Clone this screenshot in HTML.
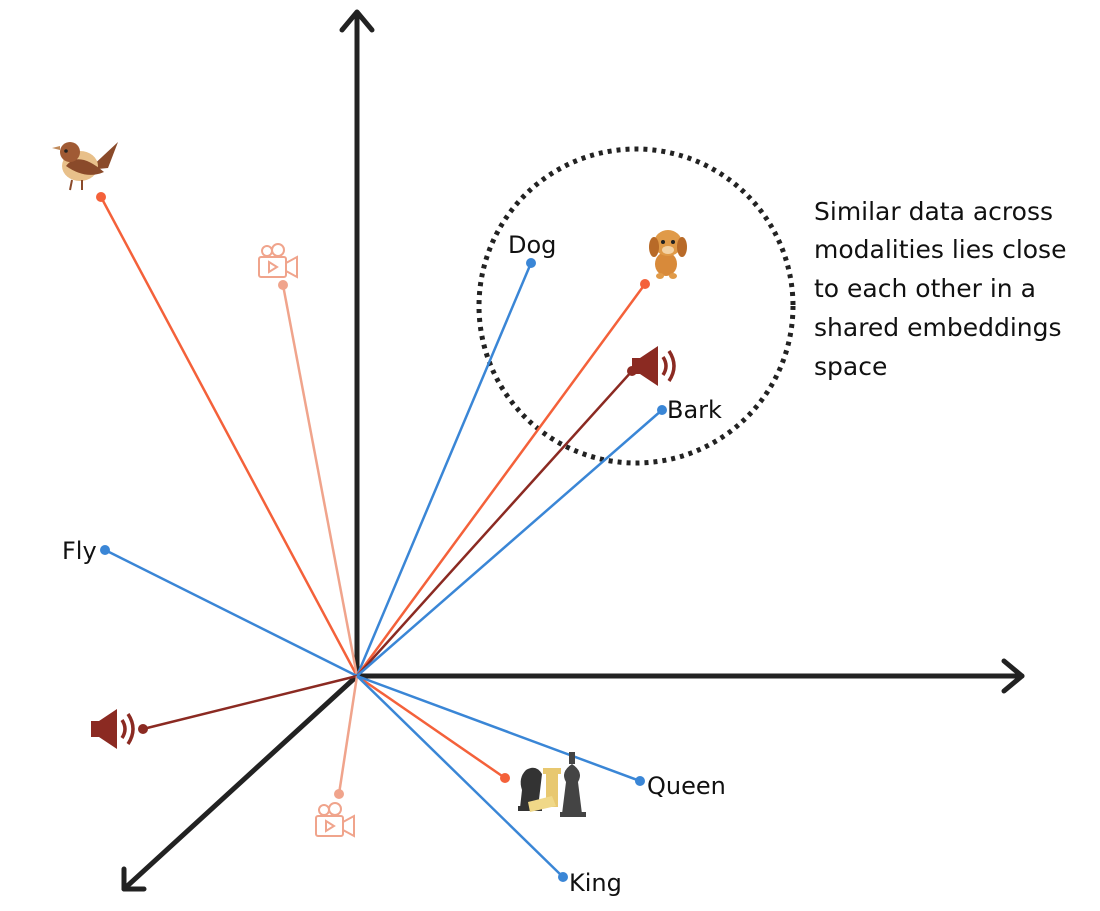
<!DOCTYPE html>
<html><head><meta charset="utf-8"><style>
html,body{margin:0;padding:0;background:#fff;}
svg{display:block;}
text{font-family:"DejaVu Sans","Liberation Sans",sans-serif;fill:#111;}
</style></head><body>
<svg width="1100" height="911" viewBox="0 0 1100 911" xmlns="http://www.w3.org/2000/svg">
<defs>
<g id="spk">
<rect x="0" y="-8" width="10" height="16" fill="#8b2a22"/>
<polygon points="8,-8 26,-20 26,20 8,8" fill="#8b2a22"/>
<path d="M31,-9 Q37,0 31,9" stroke="#8b2a22" stroke-width="3.5" fill="none"/>
<path d="M37,-15 Q47,0 37,15" stroke="#8b2a22" stroke-width="3.5" fill="none"/>
</g>
<g id="cam" stroke="#f0a48c" stroke-width="2" fill="none">
<circle cx="8" cy="-8" r="5"/><circle cx="19" cy="-9" r="6"/>
<rect x="0" y="-2" width="27" height="20" rx="2"/>
<polygon points="27,4 38,-2 38,18 27,12"/>
<polygon points="10,3 18,8 10,13"/>
</g>
</defs>
<g stroke="#222" stroke-width="5" fill="none" stroke-linecap="round" stroke-linejoin="round">
<line x1="357" y1="676" x2="357" y2="14"/>
<polyline points="342,30 357,12 372,30"/>
<line x1="357" y1="676" x2="1022" y2="676"/>
<polyline points="1004,661 1022,676 1004,691"/>
<line x1="357" y1="676" x2="124" y2="889"/>
<polyline points="124,869 124,889 144,889"/>
</g>
<circle cx="636" cy="306" r="157" fill="none" stroke="#222" stroke-width="5" stroke-dasharray="4 5"/>
<g stroke-width="2.5">
<line x1="357" y1="676" x2="101" y2="197" stroke="#f4613a"/>
<line x1="357" y1="676" x2="283" y2="285" stroke="#f0a48c"/>
<line x1="357" y1="676" x2="531" y2="263" stroke="#3a86d6"/>
<line x1="357" y1="676" x2="645" y2="284" stroke="#f4613a"/>
<line x1="357" y1="676" x2="632" y2="371" stroke="#8b2a22"/>
<line x1="357" y1="676" x2="662" y2="410" stroke="#3a86d6"/>
<line x1="357" y1="676" x2="105" y2="550" stroke="#3a86d6"/>
<line x1="357" y1="676" x2="143" y2="729" stroke="#8b2a22"/>
<line x1="357" y1="676" x2="339" y2="794" stroke="#f0a48c"/>
<line x1="357" y1="676" x2="505" y2="778" stroke="#f4613a"/>
<line x1="357" y1="676" x2="640" y2="781" stroke="#3a86d6"/>
<line x1="357" y1="676" x2="563" y2="877" stroke="#3a86d6"/>
</g>
<g>
<circle cx="101" cy="197" r="5" fill="#f4613a"/>
<circle cx="283" cy="285" r="5" fill="#f0a48c"/>
<circle cx="531" cy="263" r="5" fill="#3a86d6"/>
<circle cx="645" cy="284" r="5" fill="#f4613a"/>
<circle cx="632" cy="371" r="5" fill="#8b2a22"/>
<circle cx="662" cy="410" r="5" fill="#3a86d6"/>
<circle cx="105" cy="550" r="5" fill="#3a86d6"/>
<circle cx="143" cy="729" r="5" fill="#8b2a22"/>
<circle cx="339" cy="794" r="5" fill="#f0a48c"/>
<circle cx="505" cy="778" r="5" fill="#f4613a"/>
<circle cx="640" cy="781" r="5" fill="#3a86d6"/>
<circle cx="563" cy="877" r="5" fill="#3a86d6"/>
</g>
<g>
<polygon points="88,170 118,142 108,168" fill="#8a4a2a"/>
<ellipse cx="80" cy="166" rx="18" ry="15" fill="#e8c08a"/>
<path d="M66,166 Q78,150 104,172 Q86,180 66,166Z" fill="#8a4a2a"/>
<circle cx="70" cy="152" r="10" fill="#a05a34"/>
<polygon points="60,150 52,148 60,146" fill="#c08a5a"/>
<circle cx="66" cy="151" r="1.8" fill="#222"/>
<line x1="72" y1="180" x2="70" y2="190" stroke="#8a4a2a" stroke-width="2"/>
<line x1="82" y1="180" x2="82" y2="190" stroke="#8a4a2a" stroke-width="2"/>
</g>
<use href="#cam" x="259" y="259"/>
<use href="#cam" x="316" y="818"/>
<use href="#spk" x="632" y="366"/>
<use href="#spk" x="91" y="729"/>
<g>
<ellipse cx="666" cy="264" rx="11" ry="12" fill="#d88a3a"/>
<ellipse cx="668" cy="243" rx="14" ry="13" fill="#e09a48"/>
<ellipse cx="654" cy="247" rx="5" ry="10" fill="#b86a28"/>
<ellipse cx="682" cy="247" rx="5" ry="10" fill="#b86a28"/>
<ellipse cx="668" cy="250" rx="6" ry="4" fill="#f4d2a4"/>
<circle cx="663" cy="242" r="2" fill="#222"/><circle cx="673" cy="242" r="2" fill="#222"/>
<ellipse cx="660" cy="276" rx="4" ry="3" fill="#e09a48"/><ellipse cx="673" cy="276" rx="4" ry="3" fill="#e09a48"/>
</g>
<g>
<path d="M520,808 L522,790 Q518,778 526,770 Q536,764 542,774 L538,808Z" fill="#333"/>
<rect x="518" y="806" width="24" height="5" fill="#333"/>
<rect x="546" y="773" width="12" height="34" fill="#e8c870"/>
<rect x="543" y="768" width="18" height="6" fill="#e8c870"/>
<path d="M528,802 L552,796 L556,806 L530,812Z" fill="#f0d888"/>
<path d="M562,814 L566,782 Q560,772 572,764 Q584,772 578,782 L582,814Z" fill="#444"/>
<rect x="569" y="752" width="6" height="12" fill="#444"/>
<rect x="560" y="812" width="26" height="5" fill="#444"/>
</g>
<g font-size="24">
<text x="508" y="253">Dog</text>
<text x="667" y="418">Bark</text>
<text x="62" y="559">Fly</text>
<text x="647" y="794">Queen</text>
<text x="569" y="891">King</text>
</g>
<g font-size="25">
<text x="814" y="220">Similar data across</text>
<text x="814" y="258">modalities lies close</text>
<text x="814" y="297">to each other in a</text>
<text x="814" y="336">shared embeddings</text>
<text x="814" y="375">space</text>
</g>
</svg>
</body></html>
